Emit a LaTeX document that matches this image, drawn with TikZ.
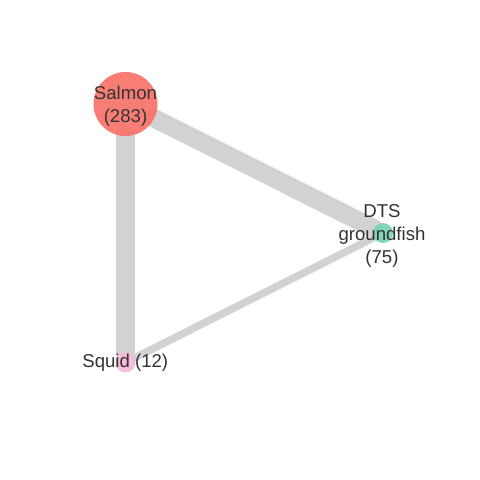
\documentclass[tikz,border=0pt]{standalone}
\usepackage{fontspec}
\setmainfont{Liberation Sans}
\definecolor{edgegray}{RGB}{210,210,210}
\definecolor{salmonc}{RGB}{248,114,105}
\definecolor{tealc}{RGB}{120,212,182}
\definecolor{pinkc}{RGB}{246,186,218}
\definecolor{txt}{RGB}{51,51,51}
\begin{document}
\begin{tikzpicture}[x=1pt,y=-1pt,
  vert/.style={circle,inner sep=0pt,fill opacity=0.92,draw=none},
  lbl/.style={align=center,text=txt,font=\fontsize{18.6}{23}\selectfont,inner sep=0pt},
  conn/.style={draw=edgegray,line cap=round}]
\useasboundingbox (0,0) rectangle (480,480);
\fill[white] (0,0) rectangle (480,480);
\coordinate (cS) at (125.5,104);
\coordinate (cD) at (383,233);
\coordinate (cQ) at (125.5,362.5);
\node[vert,minimum size=64pt] (salmon) at (cS) {};
\node[vert,minimum size=20pt] (dts) at (cD) {};
\node[vert,minimum size=20pt] (squid) at (cQ) {};
\draw[conn,line width=18.5pt] (salmon) -- (dts);
\draw[conn,line width=18.5pt] (salmon) -- (squid);
\draw[conn,line width=7.5pt] (squid) -- (dts);
\node[vert,minimum size=64pt,fill=salmonc] at (cS) {};
\node[vert,minimum size=20pt,fill=tealc] at (cD) {};
\node[vert,minimum size=20pt,fill=pinkc] at (cQ) {};
\node[lbl] (lS) at (125.5,106.5) {Salmon\\(283)};
\node[lbl] (lD) at (382,235.5) {DTS\\groundfish\\(75)};
\node[lbl] (lQ) at (125.3,363) {Squid (12)};
\end{tikzpicture}
\end{document}
